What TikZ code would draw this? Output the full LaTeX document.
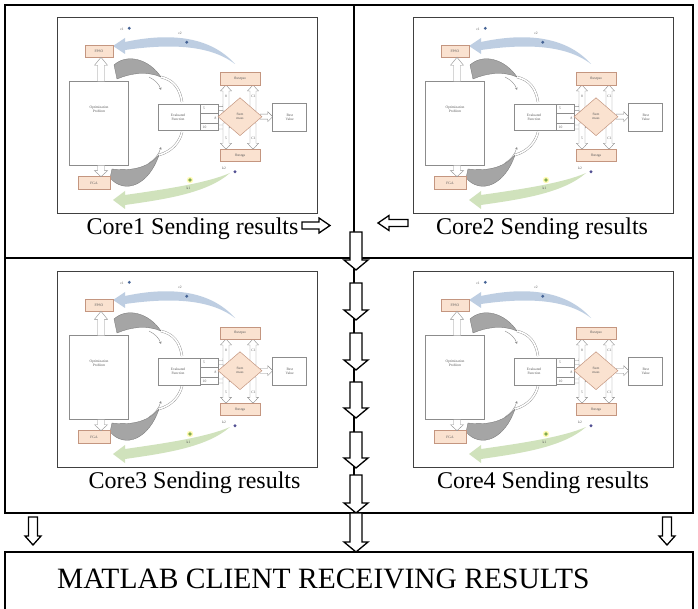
\documentclass[tikz,border=0pt]{standalone}
\usepackage{fontspec}
\setmainfont{Liberation Serif}
\usetikzlibrary{shapes.geometric,arrows.meta}
\definecolor{peach}{RGB}{250,226,208}
\definecolor{peachline}{RGB}{196,150,128}
\definecolor{boxgray}{RGB}{140,140,140}
\definecolor{bandblue}{RGB}{190,206,226}
\definecolor{bandgreen}{RGB}{208,226,188}
\definecolor{dotblue}{RGB}{70,100,150}
\definecolor{dotgreen}{RGB}{130,170,80}
\definecolor{crescent}{RGB}{165,165,165}
\tikzset{
  tinytext/.style={font=\fontsize{3.6}{4}\selectfont, text=black!65, inner sep=0},
  inbox/.style={draw=boxgray, line width=0.5, fill=white, inner sep=0},
  pbox/.style={draw=peachline, line width=0.5, fill=peach, inner sep=0, font=\fontsize{3.6}{4}\selectfont, text=black!65},
  openarr/.style={draw=boxgray, line width=0.4, fill=white},
  outer/.style={draw=black, line width=2},
  bigarrow/.style={draw=black, line width=1.3, fill=white, line join=miter},
  caption/.style={font=\fontsize{24}{28}\selectfont, anchor=base, inner sep=0},
  dbl/.style={boxgray, line width=0.4, double=white, double distance=1.6},
  thinarr/.style={boxgray, line width=0.4, -{Stealth[length=2.5,width=2.5]}},
  cres/.style={fill=crescent, draw=black!55, line width=0.3},
}
% vertical arrow: style, cx, tail y, tip y, body half, head half, head length (signed)
\newcommand\VArr[7]{\draw[#1] ({#2-#5},#3) -- ({#2+#5},#3) -- ({#2+#5},{#4-#7}) -- ({#2+#6},{#4-#7}) -- (#2,#4) -- ({#2-#6},{#4-#7}) -- ({#2-#5},{#4-#7}) -- cycle;}
% horizontal arrow: style, cy, tail x, tip x, body half, head half, head length (signed)
\newcommand\HArr[7]{\draw[#1] (#3,{#2-#5}) -- ({#4-#7},{#2-#5}) -- ({#4-#7},{#2-#6}) -- (#4,#2) -- ({#4-#7},{#2+#6}) -- ({#4-#7},{#2+#5}) -- (#3,{#2+#5}) -- cycle;}
\tikzset{core/.pic={
  \draw[black!75, line width=0.9, fill=white] (0,0) rectangle (260,196);
  % blue band
  \fill[bandblue] (178,47) .. controls (152,27) and (110,27) .. (68,33) -- (68,37) -- (56,29) -- (68,21) -- (68,25) .. controls (110,16) and (152,18) .. (178,47) -- cycle;
  % green band
  \fill[bandgreen] (173,156) .. controls (150,166) and (110,172) .. (68,178) -- (68,174) -- (56,183) -- (68,192) -- (68,188) .. controls (110,182) and (150,176) .. (173,156) -- cycle;
  % crescents
  \draw[cres] (57,48) .. controls (70,36) and (92,42) .. (104,60) .. controls (90,54) and (74,56) .. (60,62) -- cycle;
  \draw[cres] (53,161) .. controls (68,178) and (92,168) .. (102,138) .. controls (90,152) and (72,154) .. (55,152) -- cycle;
  \draw[dbl] (104,60) .. controls (117,63) and (123,72) .. (125,85);
  \draw[dbl] (102,138) .. controls (116,134) and (123,124) .. (125,115);
  \draw[thinarr] (92,60) .. controls (98,63) and (102,67) .. (104,73);
  \draw[thinarr] (92,146) .. controls (98,142) and (102,137) .. (104,130);
  % boxes left
  \node[pbox, minimum width=28, minimum height=12] (-fpso) at (42,34) {FPSO};
  \node[inbox, minimum width=59, minimum height=84] (-opt) at (41.8,106.5) {};
  \node[tinytext, align=center] (-optt) at (42,92) {Optimization\\Problem};
  \node[pbox, minimum width=32, minimum height=12.6] (-fga) at (37,166) {FGA};
  \VArr{openarr}{44}{64.5}{40.3}{3.5}{6.5}{-8}
  \VArr{openarr}{44}{148.5}{159.7}{3.5}{6.5}{6}
  % evaluated function
  \node[inbox, minimum width=41.7, minimum height=26.7] (-eval) at (122.2,100.4) {};
  \node[tinytext, align=center] (-evalt) at (121,100) {Evaluated\\Function};
  \HArr{openarr}{91.7}{158}{170}{2}{4}{4}
  \HArr{openarr}{110}{158}{173}{2}{4}{4}
  \draw[boxgray, line width=0.5, fill=white] (143,87) rectangle (161.3,113.7);
  \draw[boxgray, line width=0.4] (143,96.3) -- (161.3,96.3) (143,106.3) -- (161.3,106.3);
  \node[tinytext] (-n5) at (147,91.7) {5};
  \node[tinytext] (-n8) at (158.5,101.3) {8};
  \node[tinytext] (-n10) at (147.5,110) {10};
  % up / down arrows at diamond
  \VArr{openarr}{169}{94}{68}{3}{5.5}{-6}
  \VArr{openarr}{196}{94}{68}{3}{5.5}{-6}
  \VArr{openarr}{169}{106}{132.3}{3}{5.5}{6}
  \VArr{openarr}{196}{106}{132.3}{3}{5.5}{6}
  \node[tinytext] (-u1) at (169,79) {8};
  \node[tinytext] (-u2) at (196.5,79) {C1};
  \node[tinytext] (-d1) at (169,121) {5};
  \node[tinytext] (-d2) at (196.5,121) {C1};
  \HArr{openarr}{99.7}{203}{215.7}{2.5}{5}{5}
  \node[diamond, pbox, aspect=1.16, minimum width=44, minimum height=38, align=center] (-sum) at (183,99.7) {Sum\\mass};
  \node[inbox, minimum width=34, minimum height=28.4, align=center, font=\fontsize{3.6}{4}\selectfont, text=black!65] (-best) at (232.7,100.5) {Best\\Value};
  \node[pbox, minimum width=40, minimum height=12.3] (-top) at (183,61.9) {fbestpso};
  \node[pbox, minimum width=40, minimum height=12.4] (-bot) at (183,138.5) {fbestga};
  % dots and labels
  \fill[yellow!50, opacity=0.6] (133,163) circle (3.2);
  \fill[dotgreen] (133,163) circle (1.8);
  \fill[dotblue] (72.3,11.3) circle (1.6);
  \fill[dotblue] (129.7,25.3) circle (1.6);
  \fill[dotblue!80!violet] (178,154.7) circle (1.6);
  \node[tinytext] (-c1) at (65,12) {c1};
  \node[tinytext] (-c2) at (123,16.5) {c2};
  \node[tinytext] (-k2) at (167,151.5) {k2};
  \node[tinytext] (-k1) at (131.5,171.5) {k1};
}}
\begin{document}
\begin{tikzpicture}[x=1pt,y=-1pt]
\useasboundingbox (0,0) rectangle (698,609);
\fill[white] (0,0) rectangle (698,609);
% outer grid
\draw[outer] (5,5) rectangle (693,513);
\draw[outer] (5,258) -- (693,258);
\draw[outer] (354,5) -- (354,513);
\draw[outer] (5,612) -- (5,552) -- (693,552) -- (693,612);
% panels
\pic (p1) at (57,17) {core};
\pic (p2) at (413,17) {core};
\pic (p3) at (57,271) {core};
\pic (p4) at (413,271) {core};
% captions
\node[caption] (cap1) at (192.5,235) {Core1 Sending results};
\node[caption] (cap2) at (542,235) {Core2 Sending results};
\node[caption] (cap3) at (194.5,488) {Core3 Sending results};
\node[caption] (cap4) at (543,488) {Core4 Sending results};
\HArr{bigarrow}{225.5}{302}{330}{3.5}{7.5}{11}
\HArr{bigarrow}{223}{408}{378}{3.5}{7.5}{-11}
% chain of arrows
\VArr{bigarrow}{356}{232}{270}{6}{12}{10}
\VArr{bigarrow}{356}{283}{320}{6}{12}{10}
\VArr{bigarrow}{356}{333}{370}{6}{12}{10}
\VArr{bigarrow}{356}{382}{418}{6}{12}{10}
\VArr{bigarrow}{356}{432}{468}{6}{12}{10}
\VArr{bigarrow}{356}{475}{513}{6}{12}{10}
\VArr{bigarrow}{356}{513}{552}{6}{12}{10}
% side arrows
\VArr{bigarrow}{33}{517}{545}{4.5}{8}{9}
\VArr{bigarrow}{667}{517}{545}{4.5}{8}{9}
% client
\node[font=\fontsize{29.5}{34}\selectfont, anchor=base west, inner sep=0] (client) at (57,588) {MATLAB CLIENT RECEIVING RESULTS};
\end{tikzpicture}
\end{document}
